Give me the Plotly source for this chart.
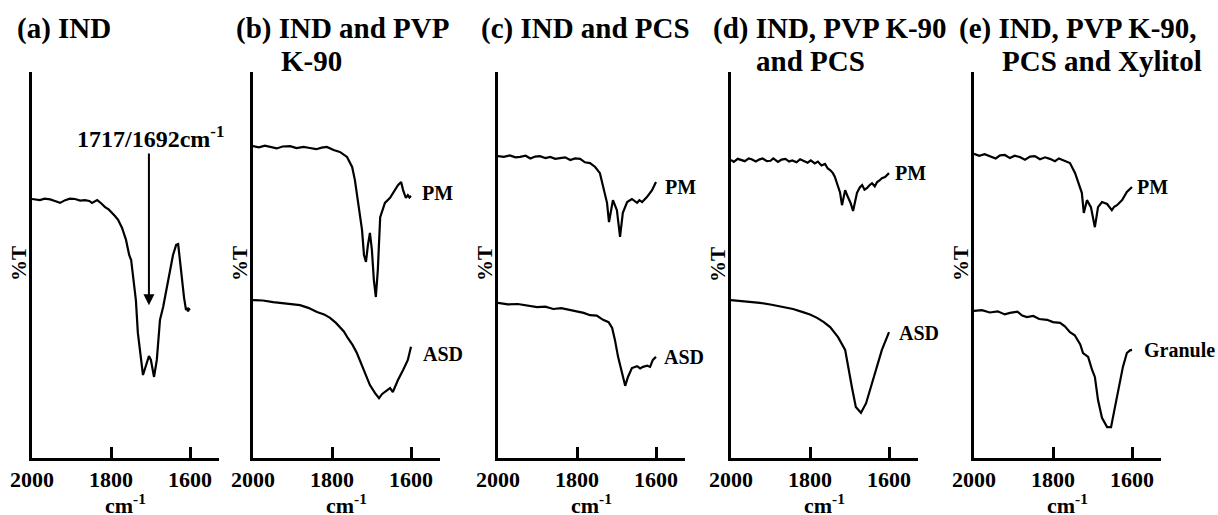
import plotly.graph_objects as go

W, H = 1218, 515

# ---- FTIR spectra (wavenumber in cm-1, transmittance in arbitrary %T units) ----
# (a) IND
a_wn = [2000, 1980, 1968, 1954, 1942, 1929, 1916, 1904, 1891, 1878, 1866, 1855, 1848, 1841,
        1835, 1825, 1815, 1806, 1797, 1790, 1782, 1772, 1762, 1754, 1749, 1742, 1737, 1732,
        1724, 1719, 1711, 1704, 1699, 1691, 1684, 1676, 1668, 1658, 1651, 1643, 1635, 1630,
        1625, 1620, 1615, 1610, 1608, 1605, 1603, 1600]
a_t = [67.1, 66.8, 67.2, 67.0, 66.6, 66.1, 66.8, 67.2, 67.1, 66.7, 66.8, 66.6, 66.1, 66.5,
       66.8, 66.0, 65.0, 64.4, 63.5, 62.7, 61.7, 59.6, 56.5, 52.6, 51.3, 45.3, 40.9, 32.4,
       24.6, 21.5, 24.1, 26.4, 25.4, 21.0, 25.4, 35.8, 39.1, 44.8, 48.7, 52.6, 55.2, 55.4,
       50.8, 45.3, 41.5, 38.3, 38.9, 38.0, 38.6, 38.3]

# (b) IND and PVP K-90
b_pm_wn = [2000, 1985, 1970, 1957, 1940, 1925, 1906, 1890, 1872, 1856, 1840, 1826, 1813, 1796,
           1780, 1762, 1749, 1742, 1734, 1724, 1719, 1714, 1709, 1704, 1699, 1694, 1689, 1684,
           1678, 1666, 1653, 1641, 1633, 1625, 1620, 1613, 1608, 1604, 1600]
b_pm_t = [80.8, 80.5, 80.9, 80.6, 80.2, 80.7, 80.8, 80.3, 80.6, 80.3, 80.0, 80.4, 80.6, 79.8,
          79.3, 78.0, 75.4, 72.0, 66.8, 59.1, 52.6, 50.8, 55.2, 58.3, 53.9, 46.1, 41.7, 48.7,
          62.4, 66.1, 67.4, 69.4, 70.7, 71.5, 69.4, 67.4, 68.1, 67.5, 67.9]
b_asd_wn = [2000, 1975, 1949, 1925, 1900, 1881, 1860, 1838, 1820, 1805, 1790, 1780, 1770, 1760,
            1748, 1737, 1722, 1712, 1704, 1691, 1681, 1673, 1666, 1653, 1646, 1633, 1620, 1608,
            1600]
b_asd_t = [40.9, 40.8, 40.4, 40.1, 39.9, 39.6, 38.9, 37.8, 37.2, 36.3, 35.0, 33.9, 32.8, 31.1,
           29.3, 27.2, 23.3, 21.0, 18.9, 16.8, 15.5, 16.6, 17.1, 18.1, 17.1, 20.2, 22.8, 25.4,
           28.8]

# (c) IND and PCS
c_pm_wn = [2000, 1985, 1970, 1956, 1944, 1930, 1918, 1906, 1894, 1880, 1868, 1855, 1843, 1830,
           1817, 1805, 1792, 1780, 1767, 1754, 1742, 1734, 1724, 1719, 1709, 1699, 1691, 1684,
           1673, 1661, 1648, 1642, 1635, 1623, 1610, 1600]
c_pm_t = [78.2, 78.0, 78.4, 77.9, 78.0, 78.3, 77.6, 78.1, 78.2, 77.7, 78.0, 77.5, 77.7, 77.9,
          77.2, 77.6, 77.5, 76.6, 76.4, 75.4, 73.8, 70.2, 66.1, 61.1, 66.8, 64.2, 57.3, 63.5,
          66.3, 67.1, 66.1, 66.8, 66.3, 67.6, 69.4, 71.5]
c_asd_wn = [2000, 1975, 1950, 1925, 1901, 1880, 1860, 1840, 1818, 1800, 1783, 1767, 1750, 1734,
            1720, 1711, 1704, 1696, 1686, 1678, 1671, 1661, 1648, 1640, 1633, 1622, 1615, 1608,
            1600]
c_asd_t = [40.2, 39.8, 39.9, 39.4, 39.1, 39.2, 38.6, 38.8, 38.3, 37.8, 37.6, 37.0, 36.9, 35.8,
           35.2, 33.7, 30.6, 26.2, 22.0, 18.7, 21.0, 23.3, 23.8, 23.2, 23.6, 23.9, 23.6, 25.4,
           26.2]

# (d) IND, PVP K-90 and PCS
d_pm_wn = [2000, 1993, 1983, 1976, 1965, 1955, 1948, 1937, 1929, 1920, 1909, 1900, 1893, 1881,
           1872, 1862, 1853, 1845, 1834, 1825, 1818, 1806, 1798, 1788, 1780, 1771, 1762, 1755,
           1749, 1742, 1737, 1729, 1724, 1719, 1711, 1704, 1697, 1691, 1684, 1681, 1674, 1668,
           1662, 1656, 1650, 1643, 1636, 1630, 1624, 1618, 1610, 1600]
d_pm_t = [77.2, 76.7, 77.5, 77.3, 76.9, 77.6, 77.4, 76.8, 77.3, 77.6, 76.9, 77.0, 77.6, 76.7,
          77.3, 77.5, 76.8, 77.1, 76.6, 77.4, 77.0, 76.5, 77.1, 76.3, 76.8, 75.8, 76.2, 75.0,
          74.6, 73.8, 72.8, 70.2, 68.8, 65.5, 69.4, 67.6, 66.0, 64.0, 67.3, 68.7, 70.1, 70.7,
          69.5, 69.9, 70.6, 71.2, 70.4, 71.5, 71.9, 72.5, 72.8, 73.8]
d_asd_wn = [2000, 1964, 1927, 1897, 1868, 1843, 1818, 1800, 1782, 1765, 1749, 1729, 1711, 1704,
            1694, 1684, 1671, 1658, 1643, 1630, 1618, 1605, 1600]
d_asd_t = [40.9, 40.6, 40.2, 39.7, 39.1, 38.6, 37.8, 37.2, 36.3, 35.2, 33.9, 31.3, 28.0, 23.6,
           18.4, 13.2, 11.7, 14.2, 19.4, 24.1, 28.0, 31.3, 32.6]

# (e) IND, PVP K-90, PCS and Xylitol
e_pm_wn = [2000, 1987, 1973, 1959, 1945, 1934, 1922, 1909, 1897, 1884, 1871, 1858, 1846, 1833,
           1820, 1808, 1795, 1785, 1775, 1757, 1744, 1737, 1727, 1722, 1714, 1704, 1694, 1686,
           1676, 1663, 1651, 1645, 1638, 1625, 1613, 1600]
e_pm_t = [78.8, 78.3, 78.7, 78.2, 77.6, 78.4, 78.5, 77.7, 78.3, 78.0, 77.3, 78.1, 78.2, 77.4,
          77.9, 77.5, 76.9, 77.6, 77.2, 76.4, 73.8, 71.5, 68.7, 63.5, 66.8, 65.0, 59.8, 65.0,
          66.3, 65.8, 64.2, 65.1, 65.5, 66.8, 68.9, 70.2]
e_gr_wn = [2000, 1980, 1960, 1940, 1922, 1909, 1890, 1878, 1866, 1850, 1835, 1815, 1800, 1782,
           1770, 1757, 1745, 1739, 1731, 1724, 1711, 1701, 1694, 1686, 1676, 1663, 1653, 1646,
           1638, 1630, 1623, 1613, 1605, 1600]
e_gr_t = [38.1, 38.3, 37.7, 38.0, 37.2, 37.6, 37.9, 36.9, 36.5, 36.8, 36.0, 35.8, 35.2, 35.0,
          34.1, 32.6, 31.8, 30.6, 29.4, 27.2, 26.2, 22.8, 21.0, 15.0, 10.4, 8.0, 8.0, 11.7,
          15.8, 19.4, 23.6, 27.2, 27.9, 28.0]

panels = [
    {"series": [(a_wn, a_t)], "labels": []},
    {"series": [(b_pm_wn, b_pm_t), (b_asd_wn, b_asd_t)],
     "labels": [("PM", 420, 193), ("ASD", 421, 354)]},
    {"series": [(c_pm_wn, c_pm_t), (c_asd_wn, c_asd_t)],
     "labels": [("PM", 663, 187), ("ASD", 662, 357)]},
    {"series": [(d_pm_wn, d_pm_t), (d_asd_wn, d_asd_t)],
     "labels": [("PM", 893, 173), ("ASD", 897, 333)]},
    {"series": [(e_pm_wn, e_pm_t), (e_gr_wn, e_gr_t)],
     "labels": [("PM", 1135, 187), ("Granule", 1142, 350)]},
]

# panel titles: (text, left px, centre y px)
titles = [
    [("(a) IND", 15, 28)],
    [("(b) IND and PVP", 234, 28), ("K-90", 279, 61)],
    [("(c) IND and PCS", 479, 28)],
    [("(d) IND, PVP K-90", 711, 28), ("and PCS", 754, 61)],
    [("(e) IND, PVP K-90,", 957, 28), ("PCS and Xylitol", 1000, 61)],
]

# left edge of each x axis in px; plot frame spans 187 px, axes top 72 / bottom 458
axis_left = [32, 253, 498, 731, 974]
frame_w = 187
y_top, y_bot = 72, 458
x_left_wn = 2000
x_right_wn = 2000 - frame_w / 79.0 * 200

FONT = "Times New Roman, Liberation Serif, DejaVu Serif, serif"
ax_w = 2.6


def px(x):
    return x / W


def py(y):
    return 1 - y / H


fig = go.Figure()
layout = dict(
    width=W, height=H, margin=dict(l=0, r=0, t=0, b=0, autoexpand=False),
    paper_bgcolor="white", plot_bgcolor="white", showlegend=False,
    font=dict(family=FONT, color="black"),
)
annotations = []

for i, p in enumerate(panels):
    n = i + 1
    xa = "x" if n == 1 else f"x{n}"
    ya = "y" if n == 1 else f"y{n}"
    for wn, t in p["series"]:
        fig.add_trace(go.Scatter(x=wn, y=t, mode="lines", xaxis=xa, yaxis=ya,
                                 line=dict(color="black", width=2.2), hoverinfo="skip"))
    L = axis_left[i]
    layout[f"xaxis{'' if n == 1 else n}"] = dict(
        domain=[px(L), px(L + frame_w)], anchor=ya, range=[x_left_wn, x_right_wn],
        showline=True, linecolor="black", linewidth=ax_w, showgrid=False, zeroline=False,
        ticks="inside", ticklen=11, tickwidth=ax_w, tickcolor="black", automargin=False,
        tickvals=[2000, 1800, 1600], ticktext=["<b>2000</b>", "<b>1800</b>", "<b>1600</b>"],
        tickfont=dict(family=FONT, size=22, color="black"),
    )
    layout[f"yaxis{'' if n == 1 else n}"] = dict(
        domain=[py(y_bot), py(y_top)], anchor=xa, range=[0, 100], automargin=False,
        showline=True, linecolor="black", linewidth=ax_w, showgrid=False, zeroline=False,
        ticks="", showticklabels=False,
    )
    # axis titles
    annotations.append(dict(xref=f"{xa} domain", yref="paper", x=0.5, y=py(504),
                            text="<b>cm<sup>-1</sup></b>", showarrow=False,
                            font=dict(family=FONT, size=22, color="black"),
                            xanchor="center", yanchor="middle"))
    annotations.append(dict(xref="paper", yref="paper", x=px(L - 13), y=py(264),
                            text="<b>%T</b>", textangle=-90, showarrow=False,
                            font=dict(family=FONT, size=21, color="black"),
                            xanchor="center", yanchor="middle"))
    for txt, lx, ly in p["labels"]:
        annotations.append(dict(xref="paper", yref="paper", x=px(lx), y=py(ly),
                                text=f"<b>{txt}</b>", showarrow=False,
                                font=dict(family=FONT, size=20, color="black"),
                                xanchor="left", yanchor="middle"))
    for txt, lx, ly in titles[i]:
        annotations.append(dict(xref="paper", yref="paper", x=px(lx), y=py(ly),
                                text=f"<b>{txt}</b>", showarrow=False,
                                font=dict(family=FONT, size=29, color="black"),
                                xanchor="left", yanchor="middle"))

# carbonyl band marker in panel (a)
peak_wn = 1704
annotations.append(dict(xref="x", yref="y", x=peak_wn, y=39.6, ax=peak_wn, ay=79.3,
                        axref="x", ayref="y", text="", showarrow=True,
                        arrowhead=2, arrowsize=1.1, arrowwidth=2, arrowcolor="black"))
annotations.append(dict(xref="paper", yref="paper", x=px(150), y=py(137),
                        text="<b>1717/1692cm<sup>-1</sup></b>", showarrow=False,
                        font=dict(family=FONT, size=24, color="black"),
                        xanchor="center", yanchor="middle"))

layout["annotations"] = annotations
fig.update_layout(**layout)
fig.write_html("out.html")
